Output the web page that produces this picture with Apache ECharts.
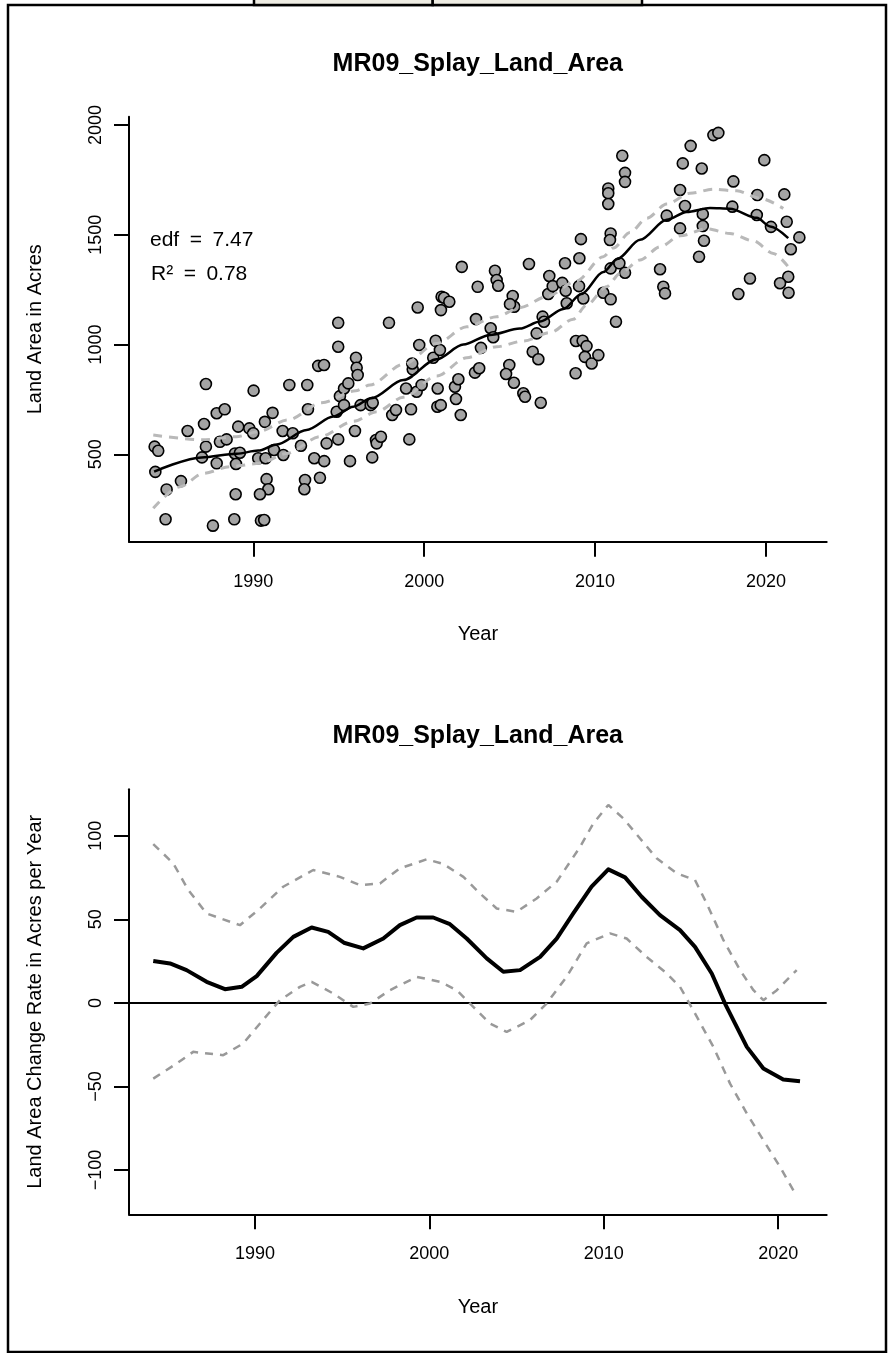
<!DOCTYPE html>
<html><head><meta charset="utf-8">
<script src="https://cdn.jsdelivr.net/npm/echarts@6/dist/echarts.min.js"></script>
<style>html,body{margin:0;padding:0;background:#fff}#c{width:891px;height:1353px}</style>
</head><body><div id="c"></div><script>
// ---------- data ----------
const chartTitle = 'MR09_Splay_Land_Area';
const xTicks = [1990, 2000, 2010, 2020];
const yTicksTop = [500, 1000, 1500, 2000];
const yTicksBottom = [-100, -50, 0, 50, 100];

const scatterYears = [1984.23,1984.44,1984.27,1984.93,1984.87,1985.77,1986.16,1987.12,1987.23,1987.0,1987.23,1987.86,1988.33,1987.86,1988.05,1988.44,1987.64,1988.89,1988.97,1989.12,1988.93,1989.22,1988.99,1989.77,1990.0,1990.02,1990.29,1990.72,1990.68,1991.13,1990.78,1990.88,1990.39,1990.45,1990.64,1991.21,1991.76,1991.72,1992.31,1992.11,1993.16,1992.79,1993.2,1993.03,1992.99,1993.57,1993.9,1994.15,1993.8,1994.14,1994.29,1994.97,1994.97,1995.07,1995.31,1995.56,1996.01,1996.05,1996.11,1994.88,1995.31,1994.97,1995.95,1995.66,1996.28,1996.96,1997.18,1996.87,1996.99,1997.22,1997.47,1997.94,1998.13,1998.35,1999.13,1999.23,1998.94,1999.33,1999.3,1999.56,1999.85,1999.71,1999.62,2000.53,2000.67,2000.92,2000.79,2000.77,2000.97,2000.98,2001.02,2001.16,2001.47,2001.86,2001.8,2002.0,2002.14,2002.2,2002.97,2003.22,2003.32,2003.03,2003.13,2003.89,2004.04,2004.14,2004.24,2004.33,2004.98,2004.79,2005.25,2005.18,2005.27,2005.02,2005.8,2005.9,2006.13,2006.35,2006.68,2006.58,2006.82,2006.93,2007.01,2007.32,2007.26,2007.52,2008.08,2008.28,2008.24,2008.34,2008.88,2008.86,2009.08,2009.17,2009.06,2009.31,2009.27,2009.5,2009.4,2009.8,2010.19,2010.48,2010.91,2011.22,2010.77,2010.77,2010.77,2010.91,2010.87,2011.59,2011.75,2011.75,2010.91,2011.42,2011.75,2013.8,2013.99,2014.09,2014.19,2014.97,2015.13,2015.26,2014.97,2015.59,2016.24,2016.3,2016.3,2016.37,2016.08,2016.92,2017.21,2018.09,2018.03,2019.06,2018.38,2019.49,2019.46,2019.9,2020.29,2021.07,2021.21,2021.45,2021.3,2020.82,2021.32,2021.95];
const scatterValues = [535,516,420,340,204,378,606,638,820,486,535,687,705,459,557,568,175,204,318,626,504,507,456,618,596,790,482,482,648,689,387,341,318,198,201,520,497,606,596,816,816,539,705,383,341,482,393,469,903,907,550,1099,990,765,800,823,940,894,861,694,724,568,606,469,724,486,565,724,735,550,580,1099,679,702,568,705,800,887,914,785,816,998,1169,940,1017,975,800,717,724,1157,1218,1213,1195,752,808,842,679,1354,872,892,985,1116,1263,1074,1033,1336,1294,1268,907,866,826,1221,1172,1184,778,762,1367,967,933,1051,735,1127,1104,1312,1230,1266,1281,1245,1370,1188,1016,869,1393,1480,1266,1210,1017,993,944,914,952,1236,1206,1104,1711,1689,1640,1506,1476,1860,1782,1741,1347,1370,1327,1343,1263,1233,1587,1704,1825,1631,1529,1905,1802,1594,1540,1473,1400,1954,1964,1743,1628,1301,1230,1681,1590,1840,1536,1684,1559,1434,1309,1279,1236,1488];

const fitYears = [1984.2,1986.98,1989.03,1990.29,1991.37,1993.12,1994.68,1995.85,1996.9,1998.78,2000.73,2002.29,2003.85,2005.6,2006.78,2008.14,2009.2,2010.48,2011.3,2012.63,2014.19,2015.36,2016.72,2017.89,2019.46,2020.24,2021.3];
const fitValues = [421,486,503,517,545,611,672,717,755,838,933,1000,1044,1073,1105,1162,1230,1330,1390,1477,1568,1604,1622,1619,1577,1538,1485];
const upperYears = [1984.15,1987.0,1989.0,1990.3,1992.0,1994.0,1996.0,1996.83,1998.78,2000.73,2002.49,2004.24,2005.6,2007.17,2008.92,2010.48,2011.07,2012.04,2013.02,2014.19,2015.55,2016.92,2018.29,2019.65,2021.01];
const upperValues = [588,566,580,603,656,735,790,816,910,1005,1081,1127,1168,1218,1290,1400,1440,1510,1575,1640,1689,1707,1700,1666,1620];
const lowerYears = [1984.15,1985.71,1987.07,1988.64,1990.39,1991.95,1993.9,1995.85,1997.22,1998.78,2000.73,2002.49,2004.24,2005.8,2007.36,2008.72,2009.5,2010.67,2011.46,2012.63,2013.8,2014.97,2016.53,2017.89,2019.26,2020.43,2021.3];
const lowerValues = [254,352,413,444,459,504,580,650,694,760,857,940,990,1016,1054,1115,1180,1263,1324,1385,1445,1495,1527,1506,1472,1415,1354];

const rateYears = [1984.17,1985.13,1986.08,1987.23,1988.28,1989.24,1990.1,1991.24,1992.2,1993.25,1994.2,1995.1,1996.21,1997.36,1998.31,1999.27,2000.22,2001.18,2002.14,2003.29,2004.24,2005.2,2006.35,2007.3,2008.25,2009.3,2010.26,2011.22,2012.17,2013.22,2014.37,2015.23,2016.19,2016.95,2018.2,2019.15,2020.29,2021.25];
const rateValues = [25.1,23.6,19.6,12.6,8.2,9.6,16,29.9,39.5,45.1,42.5,36,32.6,38.5,46.5,51.1,51.1,47.1,38.5,26.6,18.6,19.6,27.5,38.5,53.5,69.5,79.9,75.1,63.5,52.5,43.5,33.5,17.6,-0.4,-26.3,-39.3,-45.9,-46.9];
const rateUpperYears = [1984.17,1985.32,1986.18,1987.23,1989.14,1990.29,1991.62,1993.34,1994.87,1996.02,1997.17,1998.31,1999.85,2000.8,2001.95,2002.9,2003.86,2005.0,2006.15,2007.3,2008.62,2009.4,2010.26,2011.12,2012.08,2013.03,2014.18,2015.23,2015.9,2016.86,2017.81,2018.58,2019.15,2019.92,2021.06];
const rateUpperValues = [95,83.5,67.5,53.5,46.5,56.5,69.5,79.5,75.4,70.5,71.5,80.5,85.9,83.1,75.4,65.5,56.5,54.5,62.5,72.5,93,107.4,118.4,110.4,98.4,86.5,77.5,73.5,59.5,37.5,19.6,7.6,1.6,7.6,19.6];
const rateLowerYears = [1984.17,1985.51,1986.46,1988.18,1989.33,1990.29,1991.43,1992.58,1993.25,1994.49,1995.64,1996.59,1997.74,1999.27,2000.61,2001.57,2002.52,2003.47,2004.43,2005.76,2006.72,2007.87,2009.02,2010.36,2011.31,2012.46,2013.61,2014.37,2015.13,2016.28,2017.24,2018.2,2019.15,2020.11,2020.87];
const rateLowerValues = [-45.3,-36.3,-29.3,-31.3,-24.3,-12.3,1.6,9.6,12.6,5.6,-2.4,-0.4,7.6,15.6,12.6,7.6,-2.4,-12.3,-17.4,-10.4,-0.4,15.6,35.6,41.6,38.5,27.5,17.6,9.6,-4.4,-26.3,-48.3,-66.2,-82.2,-98.2,-112.2];

const statLines = ['edf\u2002=\u20027.47', 'R\u00b2\u2002=\u20020.78'];

// ---------- chart ----------
const zip = (a, b) => a.map((v, i) => [v, b[i]]);
const FONT = '"Liberation Sans", Arial, sans-serif';
const topX = [1982.73, 2023.55], topY = [102, 2037.8];
const botX = [1982.78, 2022.78], botY = [-126.5, 127.8];
const fmtMinus = v => (v < 0 ? '\u2212' + Math.abs(v) : String(v));

function xAx(idx, range) {
  return {
    type: 'value', gridIndex: idx, min: range[0], max: range[1],
    name: 'Year', nameLocation: 'middle', nameGap: 83,
    nameTextStyle: { fontFamily: FONT, fontSize: 20, color: '#000' },
    axisLine: { show: true, onZero: false, lineStyle: { color: '#000', width: 2 } },
    axisTick: { show: true, length: 15, customValues: xTicks, lineStyle: { color: '#000', width: 2 } },
    axisLabel: { customValues: xTicks, margin: 31, fontFamily: FONT, fontSize: 18, color: '#000', formatter: v => String(v) },
    splitLine: { show: false }
  };
}
function yAx(idx, range, ticks, name) {
  return {
    type: 'value', gridIndex: idx, min: range[0], max: range[1],
    name: name, nameLocation: 'middle', nameGap: 84,
    nameTextStyle: { fontFamily: FONT, fontSize: 20, color: '#000' },
    axisLine: { show: true, onZero: false, lineStyle: { color: '#000', width: 2 } },
    axisTick: { show: true, length: 15, customValues: ticks, lineStyle: { color: '#000', width: 2 } },
    axisLabel: { customValues: ticks, rotate: 90, margin: 24, fontFamily: FONT, fontSize: 18, color: '#000', formatter: fmtMinus },
    splitLine: { show: false }
  };
}
const dashTop = { color: '#b9b9b9', width: 3, type: [9, 7] };
const dashBot = { color: '#999999', width: 2.5, type: [8, 7] };
function lineS(xi, data, style, z, smooth) {
  return { type: 'line', xAxisIndex: xi, yAxisIndex: xi, data: data, showSymbol: false, symbol: 'none',
    smooth: smooth || false, smoothMonotone: 'x', lineStyle: style, z: z, silent: true };
}

const chart = echarts.init(document.getElementById('c'), null, { renderer: 'canvas' });
chart.setOption({
  animation: false,
  backgroundColor: '#fff',
  grid: [
    { left: 129, top: 116.7, width: 697.7, height: 425 },
    { left: 129, top: 789.3, width: 697.7, height: 425 }
  ],
  xAxis: [xAx(0, topX), xAx(1, botX)],
  yAxis: [yAx(0, topY, yTicksTop, 'Land Area in Acres'), yAx(1, botY, yTicksBottom, 'Land Area Change Rate in Acres per Year')],
  series: [
    { type: 'scatter', xAxisIndex: 0, yAxisIndex: 0, data: zip(scatterYears, scatterValues), symbol: 'circle', symbolSize: 11,
      itemStyle: { color: '#a4a4a4', borderColor: '#000', borderWidth: 1.6, opacity: 1 }, z: 2 },
    lineS(0, zip(upperYears, upperValues), dashTop, 3, 0.3),
    lineS(0, zip(lowerYears, lowerValues), dashTop, 3, 0.3),
    lineS(0, zip(fitYears, fitValues), { color: '#000', width: 2.5 }, 4, 0.3),
    lineS(1, [[botX[0], 0], [botX[1], 0]], { color: '#000', width: 2 }, 2),
    lineS(1, zip(rateUpperYears, rateUpperValues), dashBot, 3),
    lineS(1, zip(rateLowerYears, rateLowerValues), dashBot, 3),
    lineS(1, zip(rateYears, rateValues), { color: '#000', width: 4, join: 'round' }, 4)
  ],
  graphic: [
    { type: 'rect', shape: { x: 8, y: 5, width: 878, height: 1347 }, style: { fill: 'none', stroke: '#000', lineWidth: 2.5 }, z: 10 },
    { type: 'rect', shape: { x: 254, y: -20, width: 178.7, height: 25 }, style: { fill: '#eeece3', stroke: '#000', lineWidth: 2.5 }, z: 11 },
    { type: 'rect', shape: { x: 432.7, y: -20, width: 209.3, height: 25 }, style: { fill: '#eeece3', stroke: '#000', lineWidth: 2.5 }, z: 11 },
    { type: 'text', x: 477.8, y: 64, style: { text: chartTitle, fontFamily: FONT, fontSize: 25, fontWeight: 'bold', fill: '#000', align: 'center', verticalAlign: 'middle' } },
    { type: 'text', x: 477.8, y: 736, style: { text: chartTitle, fontFamily: FONT, fontSize: 25, fontWeight: 'bold', fill: '#000', align: 'center', verticalAlign: 'middle' } },
    { type: 'text', x: 150, y: 240, style: { text: statLines[0], fontFamily: FONT, fontSize: 21, fill: '#000', align: 'left', verticalAlign: 'middle' } },
    { type: 'text', x: 151, y: 274, style: { text: statLines[1], fontFamily: FONT, fontSize: 21, fill: '#000', align: 'left', verticalAlign: 'middle' } }
  ]
});
</script></body></html>
